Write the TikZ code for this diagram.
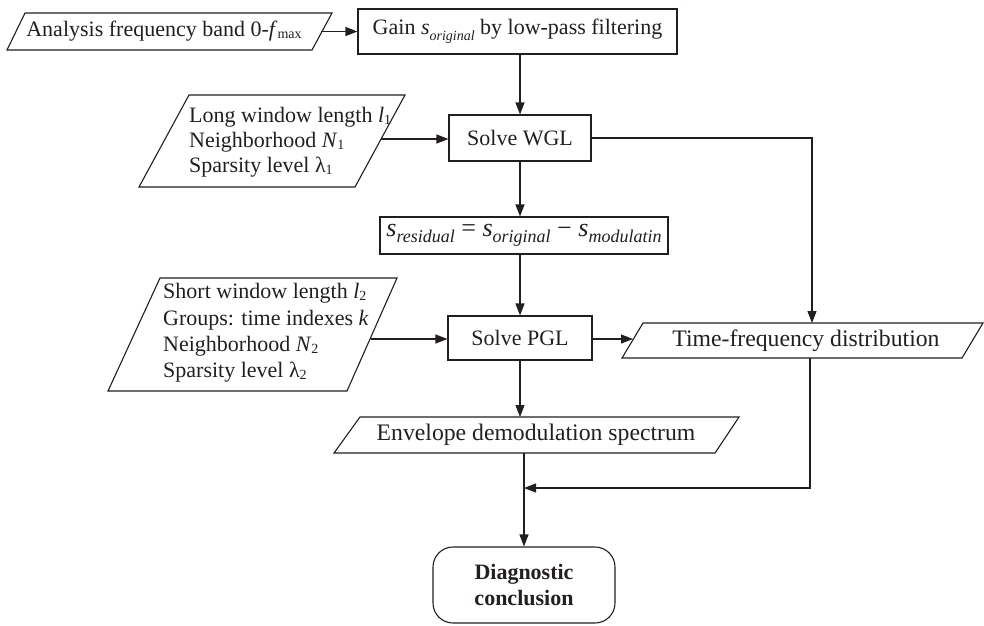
\documentclass[tikz,border=0pt]{standalone}
\usepackage{fontspec}
\setmainfont{Liberation Serif}
\usetikzlibrary{arrows.meta}
\definecolor{ink}{HTML}{231F20}
\newcommand\lowsub[1]{\raisebox{-0.2ex}{\fontsize{14}{14}\selectfont #1}}
\begin{document}
\begin{tikzpicture}[x=1pt,y=-1pt,
  conn/.style={draw=ink,line width=1.1pt,-{Triangle[length=12pt,width=9pt]}},
  plain/.style={draw=ink,line width=1.1pt},
  procbox/.style={draw=ink,line width=1.1pt,rectangle,inner sep=0pt,
    font=\fontsize{22}{25}\selectfont,text=ink},
  txt/.style={inner sep=0pt,font=\fontsize{22}{25}\selectfont,text=ink},
  bigtxt/.style={inner sep=0pt,font=\fontsize{23.7}{26}\selectfont,text=ink},
  endbox/.style={draw=ink,line width=1.1pt,rectangle,rounded corners=20pt,inner sep=0pt,
    font=\fontsize{22}{26}\selectfont\bfseries,text=ink,align=center}]
\useasboundingbox (0,0) rectangle (984,625);

% parallelogram 1
\draw[plain] (7,50) -- (25,13) -- (332,13) -- (312,50) -- cycle;
\node[txt] (p1) at (164,31.5) {Analysis frequency band 0-\textit{f}\lowsub{max}};
\coordinate (p1r) at (321,31.5);

% gain box
\node[procbox,minimum width=319pt,minimum height=45pt] (gain) at (517.5,31.5)
  {Gain \textit{s}\raisebox{-0.55ex}{\fontsize{14}{14}\selectfont\itshape original} by low-pass filtering};

% parallelogram 2
\draw[plain] (139,187) -- (189,95) -- (405,95) -- (355,187) -- cycle;
\node[txt,anchor=west,align=left] (p2) at (189,142)
  {Long window length \textit{l}\lowsub{1}\\ Neighborhood \textit{N}\lowsub{1}\\ Sparsity level λ\lowsub{1}};
\coordinate (p2r) at (381,139);

% WGL
\node[procbox,minimum width=142pt,minimum height=46pt] (wgl) at (520,138) {Solve WGL};

% residual
\node[procbox,minimum width=288pt,minimum height=37pt,font=\fontsize{26}{30}\selectfont] (sres) at (524,235.5)
  {\textit{s}\raisebox{-0.55ex}{\fontsize{18}{18}\selectfont\itshape residual} = \textit{s}\raisebox{-0.55ex}{\fontsize{18}{18}\selectfont\itshape original} − \textit{s}\raisebox{-0.55ex}{\fontsize{18}{18}\selectfont\itshape modulatin}};

% parallelogram 3
\draw[plain] (108,391) -- (160,278) -- (397,278) -- (347,391) -- cycle;
\node[txt,anchor=west,align=left,font=\fontsize{22}{26.3}\selectfont] (p3) at (163,333)
  {Short window length \textit{l}\lowsub{2}\\ Groups: time indexes \textit{k}\\ Neighborhood \textit{N}\lowsub{2}\\ Sparsity level λ\lowsub{2}};
\coordinate (p3r) at (371,339);

% PGL
\node[procbox,minimum width=144pt,minimum height=44pt] (pgl) at (520,338) {Solve PGL};

% time-frequency
\draw[plain] (622,358) -- (643,323) -- (983,323) -- (962,358) -- cycle;
\node[bigtxt] (tf) at (806,341) {Time-frequency distribution};
\coordinate (tfl) at (633,339);
\coordinate (tft) at (812,323);
\coordinate (tfb) at (810,358);

% envelope
\draw[plain] (334,453) -- (360,417) -- (739,417) -- (715,453) -- cycle;
\node[bigtxt] (env) at (536,435) {Envelope demodulation spectrum};
\coordinate (envt) at (520,417);
\coordinate (envb) at (524,453);

% diagnostic
\node[endbox,minimum width=182pt,minimum height=76pt] (diag) at (524,585) {Diagnostic\\conclusion};
\coordinate (jn) at (524,488);

% connectors
\draw[conn] (p1r) -- (gain.west |- p1r);
\draw[conn] (wgl.north |- gain.south) -- (wgl.north);
\draw[conn] (p2r) -- (p2r -| wgl.west);
\draw[conn] (wgl.east) -- (wgl.east -| tft) -- (tft);
\draw[conn] (wgl.south) -- (wgl.south |- sres.north);
\draw[conn] (pgl.north |- sres.south) -- (pgl.north);
\draw[conn] (p3r) -- (p3r -| pgl.west);
\draw[conn] (pgl.east |- tfl) -- (tfl);
\draw[conn] (pgl.south) -- (envt);
\draw[conn] (envb) -- (diag.north);
\draw[conn] (tfb) -- (tfb |- jn) -- (jn);
\end{tikzpicture}
\end{document}
